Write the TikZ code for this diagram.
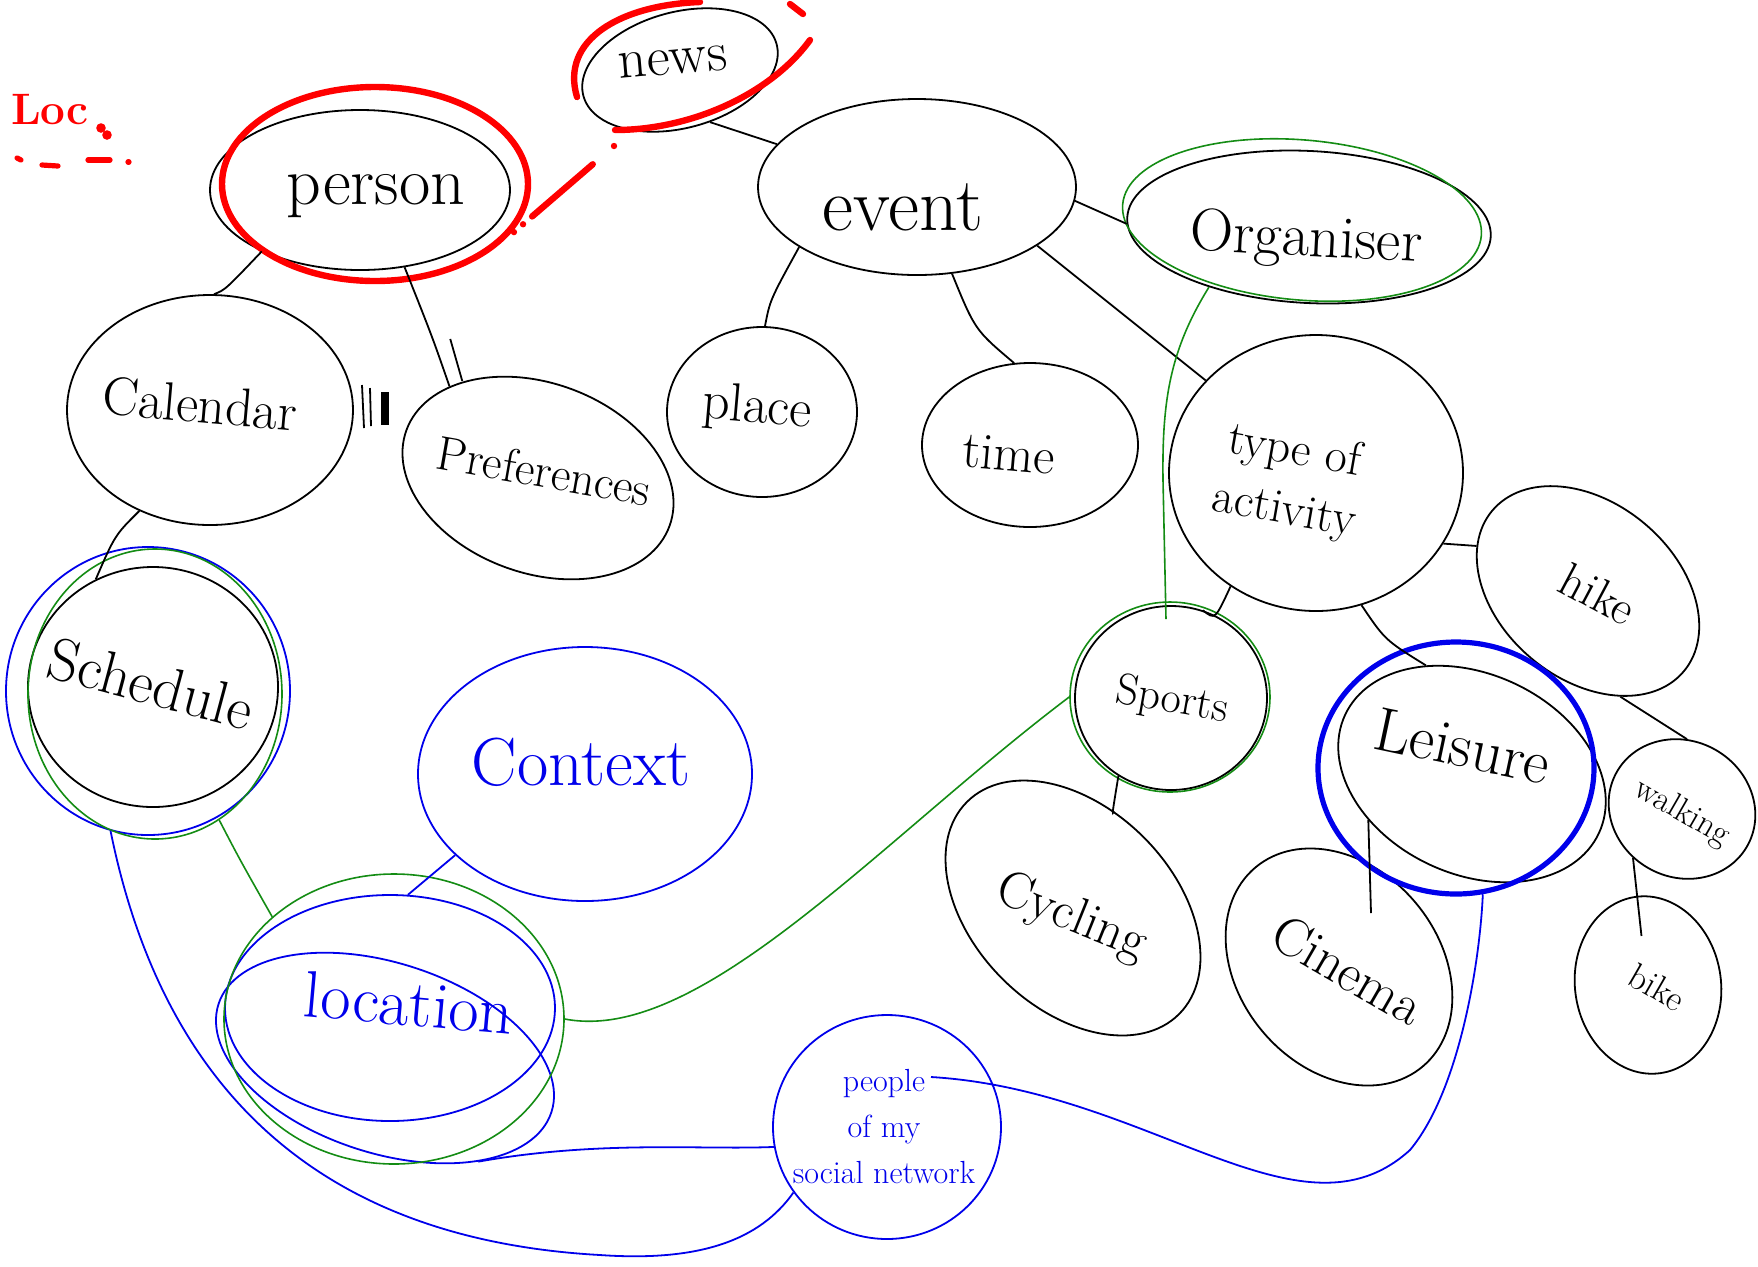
\documentclass[tikz,border=0pt]{standalone}
\usetikzlibrary{shapes.geometric,calc}
\definecolor{pgreen}{RGB}{20,140,20}
\definecolor{pblue}{RGB}{0,0,235}
\definecolor{pred}{RGB}{255,0,0}
\begin{document}
\begin{tikzpicture}[x=0.5pt,y=-0.5pt,
 bub/.style={draw=black, ellipse, inner sep=0pt, line width=0.9pt},
 gbub/.style={bub, draw=pgreen, line width=0.8pt},
 bbub/.style={bub, draw=pblue, line width=0.9pt},
 rbub/.style={bub, draw=pred, line width=3.2pt},
 sz/.style n args={3}{minimum width=#1pt, minimum height=#2pt, rotate=#3},
 con/.style={draw=black, line width=0.9pt},
 gcon/.style={draw=pgreen, line width=0.8pt},
 bcon/.style={draw=pblue, line width=0.9pt},
 rmark/.style={draw=pred, line width=3.2pt, line cap=round},
 txt/.style={inner sep=0pt, align=center, font=\fontsize{#1pt}{#1pt}\selectfont},
]
\fill[white] (0,0) rectangle (1758,1266);
\useasboundingbox (0,0) rectangle (1758,1266);

% ---------- bubbles ----------
\node[bub, sz={150}{80}{0}] (person) at (360,190) {};
\node[rbub, sz={153}{97}{0}] (personR) at (375,184) {};
\node[bub, sz={100}{58}{15}] (news) at (680,70) {};
\node[bub, sz={159}{88}{0}] (event) at (917,187) {};
\node[bub, sz={182}{76}{-3}] (organiser) at (1309,227) {};
\node[gbub, sz={180}{80}{-5}] (orgG) at (1302,220) {};
\node[bub, sz={143}{115}{0}] (calendar) at (210,410) {};
\node[bub, sz={140}{95}{-20}] (prefs) at (538,478) {};
\node[bub, sz={95}{85}{0}] (place) at (762,412) {};
\node[bub, sz={108}{82}{0}] (time) at (1030,445) {};
\node[bub, sz={147}{138}{0}] (type) at (1316,473) {};
\node[bub, sz={125}{88}{-40}] (hike) at (1588,591) {};
\node[bub, sz={75}{68}{-30}] (walking) at (1682,809) {};
\node[bub, sz={73}{89}{8}] (bike) at (1648,985) {};
\node[bub, sz={125}{120}{0}] (schedule) at (153,687) {};
\node[bbub, sz={142}{144}{0}] (schedB) at (148,691) {};
\node[gbub, sz={127}{145}{0}] (schedG) at (155,694) {};
\node[bbub, sz={167}{127}{0}] (context) at (585,774) {};
\node[bbub, sz={165}{113}{0}] (location) at (390,1008) {};
\node[bbub, sz={175}{95}{-18}] (location2) at (385,1058) {};
\node[gbub, sz={170}{145}{0}] (locG) at (394,1019) {};
\node[bbub, sz={114}{112}{0}] (people) at (887,1127) {};
\node[bub, sz={96}{92}{0}] (sports) at (1171,698) {};
\node[gbub, sz={100}{95}{0}] (sportsG) at (1170,697) {};
\node[bub, sz={150}{100}{-45}] (cycling) at (1073,908) {};
\node[bub, sz={130}{100}{-50}] (cinema) at (1339,967) {};
\node[bub, sz={140}{100}{-25}] (leisure) at (1472,774) {};
\node[bbub, line width=2.6pt, sz={138}{126}{0}] (leisB) at (1456,768) {};

% ---------- labels ----------
\node[txt=34] (tperson) at (376,196) {person};
\node[txt=28, rotate=5] (tnews) at (673,62) {news};
\node[txt=38] (tevent) at (903,207) {event};
\node[txt=30, rotate=-3] (torg) at (1306,241) {Organiser};
\node[txt=27, rotate=-5] (tcal) at (200,404) {Calendar};
\node[txt=24, rotate=-10] (tprefs) at (544,471) {Preferences};
\node[txt=27, rotate=-5] (tplace) at (757,409) {place};
\node[txt=26, rotate=-5] (ttime) at (1009,454) {time};
\node[txt=24, rotate=-10] (ttype) at (1289,482) {type of\\[6pt] activity};
\node[txt=24, rotate=-28] (thike) at (1598,594) {hike};
\node[txt=17, rotate=-30] (twalk) at (1682,813) {walking};
\node[txt=18, rotate=-30] (tbike) at (1657,987) {bike};
\node[txt=30, rotate=-15] (tsched) at (151,684) {Schedule};
\node[txt=34, text=pblue] (tcontext) at (581,762) {Context};
\node[txt=33, text=pblue, rotate=-5] (tloc) at (409,1003) {location};
\node[txt=16, text=pblue] (tpeople) at (884,1127) {people\\[7pt] of my\\[7pt] social network};
\node[txt=22, rotate=-10] (tsports) at (1172,701) {Sports};
\node[txt=26, rotate=-22] (tcyc) at (1071,918) {Cycling};
\node[txt=27, rotate=-30] (tcin) at (1348,970) {Cinema};
\node[txt=31, rotate=-12] (tleis) at (1463,746) {Leisure};
\node[text=pred, inner sep=0pt, font=\fontsize{22pt}{22pt}\bfseries] (tLoc) at (50,110) {Loc};

% ---------- red marks ----------
\fill[pred] (101,128) circle (2.4pt);
\fill[pred] (107,135) circle (2.4pt);
\draw[rmark, line width=2.6pt] (17,158) -- (21,160);
\draw[rmark, line width=2.6pt] (42,165) -- (58,166);
\draw[rmark, line width=2.6pt] (88,160) -- (110,160);
\draw[rmark, line width=2.6pt] (128,162) -- (129,162);
\draw[rmark] (577,97) .. controls (560,40) and (620,5) .. (700,2);
\draw[rmark] (790,4) -- (803,14);
\draw[rmark] (810,40) .. controls (770,95) and (690,130) .. (615,130);
\coordinate (redA) at (614,146);
\draw[rmark, dash pattern=on 0pt off 14pt on 40pt off 6pt on 0pt off 6pt on 0pt off 60pt] (redA) -- (personR.335);

% ---------- black connectors ----------
\draw[con] (person.212) .. controls (225,290) .. (calendar.88);
\draw[con] (person.300) .. controls (432,336) .. (prefs.154);
\draw[con] ($(prefs.150)+(4,-2)$) -- ++(-12,-42);
\draw[con] (362,385) -- (364,428);
\draw[con] (370,388) -- (371,426);
\draw[con, line width=4pt] (385,392) -- (385,425);
\draw[con] (news.285) -- (event.163);
\draw[con] (event.-5) -- (organiser.182);
\draw[con] (event.207) .. controls (770,300) .. (place.88);
\draw[con] (event.292) .. controls (975,330) .. (time.101);
\draw[con] (event.334) -- (type.140);
\draw[con] (calendar.235) .. controls (115,535) .. (schedule.118);
\draw[con] (type.233) .. controls (1215,620) .. (sports.70);
\draw[con] (type.331) -- (hike.198);
\draw[con] (type.289) .. controls (1385,640) .. (leisure.138);
\draw[con] (hike.327) -- (walking.116);
\draw[con] (walking.255) -- ($(bike.north)+(6,40)$);
\draw[con] (sports.236) .. controls (1112,815) .. (cycling.112);
\draw[con] (leisure.229) -- ($(cinema.center)+(32,-54)$);

% ---------- green connectors ----------
\draw[gcon] (organiser.214) .. controls (1170,350) and (1162,400) .. (1163,480) -- ($(sports.north)+(-5,14)$);
\draw[gcon] (sportsG.west) .. controls (880,840) and (700,1045) .. (locG.east);
\draw[gcon] (schedG.297) .. controls (240,860) .. (locG.140);

% ---------- blue connectors ----------
\draw[bcon] (context.212) -- (location.81);
\draw[bcon] (location2.-30) .. controls (600,1140) and (700,1150) .. (people.190);
\draw[bcon] (schedB.255) .. controls (165,1100) and (330,1240) .. (600,1255) .. controls (700,1262) and (760,1240) .. (people.215);
\coordinate (pplA) at (931,1077);
\draw[bcon] (pplA) .. controls (1150,1090) and (1300,1250) .. (1410,1150) .. controls (1460,1090) and (1480,960) .. (leisB.-78);
\end{tikzpicture}
\end{document}
